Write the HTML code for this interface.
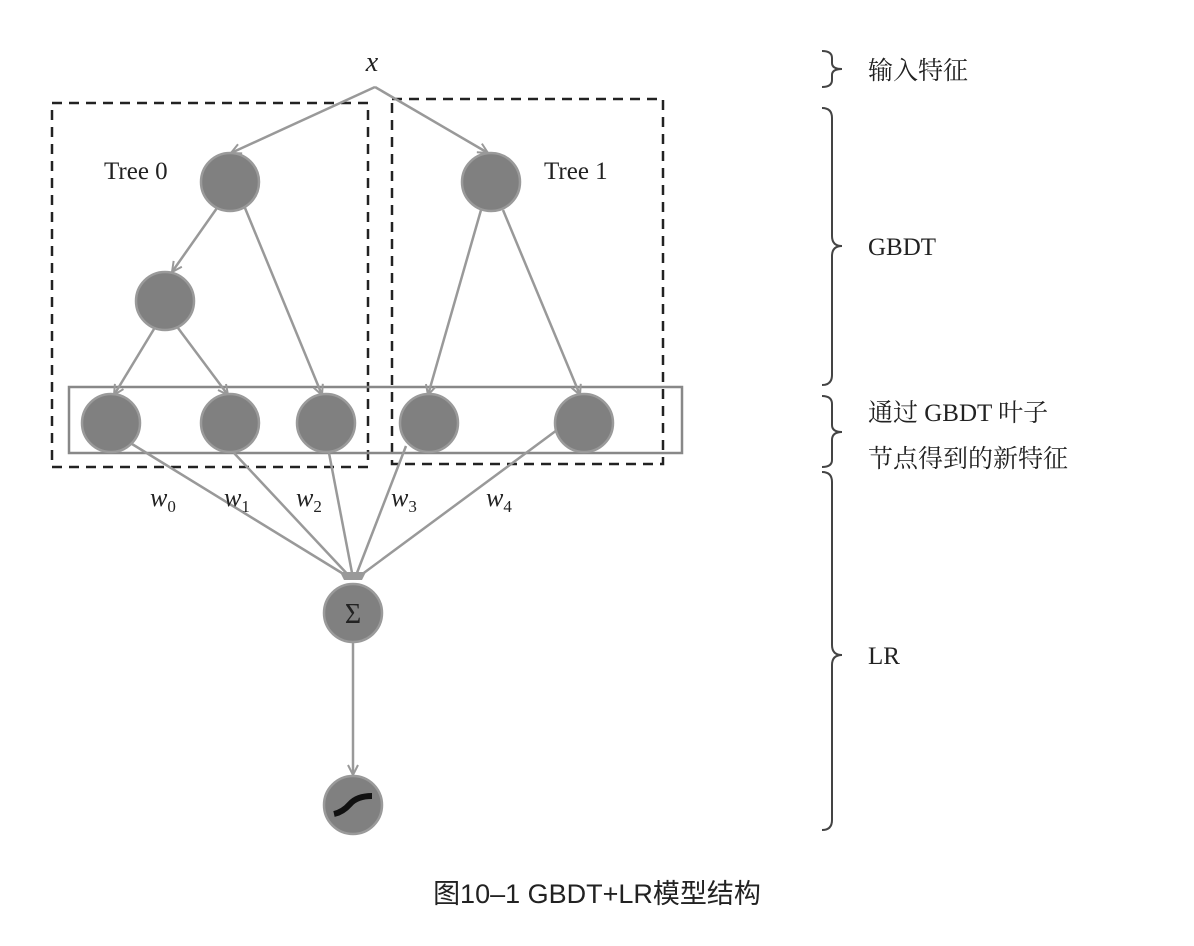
<!DOCTYPE html>
<html><head><meta charset="utf-8"><style>
body{margin:0;background:#fff}
svg{display:block}
.s{font-family:"Liberation Serif","Noto Serif CJK SC",serif;fill:#222}
.c{font-family:"Liberation Sans","Noto Sans CJK SC",sans-serif;fill:#222}
</style></head><body>
<svg width="1194" height="946" viewBox="0 0 1194 946" xmlns="http://www.w3.org/2000/svg">
<defs>
<marker id="a" viewBox="0 0 12 12" refX="11" refY="6" markerWidth="12" markerHeight="12" markerUnits="userSpaceOnUse" orient="auto">
<path d="M1,1 L11,6 L1,11" fill="none" stroke="#999" stroke-width="2"/>
</marker>
</defs>
<rect x="52" y="103" width="316" height="364" fill="none" stroke="#222" stroke-width="2.5" stroke-dasharray="10,7"/>
<rect x="392" y="99" width="271" height="365" fill="none" stroke="#222" stroke-width="2.5" stroke-dasharray="10,7"/>
<rect x="69" y="387" width="613" height="66" fill="none" stroke="#888" stroke-width="2.5"/>
<g stroke="#999" stroke-width="2.5" fill="none" marker-end="url(#a)">
<line x1="375" y1="87" x2="231" y2="153"/>
<line x1="375" y1="87" x2="488" y2="153"/>
<line x1="217" y1="208" x2="172" y2="272"/>
<line x1="245" y1="208" x2="322" y2="395"/>
<line x1="154" y1="329" x2="114" y2="395"/>
<line x1="178" y1="328" x2="228" y2="395"/>
<line x1="481" y1="210" x2="428" y2="395"/>
<line x1="503" y1="210" x2="580" y2="395"/>
<line x1="353" y1="641" x2="353" y2="775"/>
</g>
<g stroke="#999" stroke-width="2.5" fill="none">
<line x1="132" y1="444" x2="350" y2="578"/>
<line x1="234" y1="453" x2="351" y2="578"/>
<line x1="329" y1="453" x2="353" y2="578"/>
<line x1="406" y1="446" x2="355" y2="578"/>
<line x1="557" y1="430" x2="357" y2="578"/>
</g>
<path d="M340,572 L366,572 L362,580 L344,580Z" fill="#999"/>
<g fill="#808080" stroke="#9a9a9a" stroke-width="2.5">
<circle cx="230" cy="182" r="29"/>
<circle cx="491" cy="182" r="29"/>
<circle cx="165" cy="301" r="29"/>
<circle cx="111" cy="423" r="29"/>
<circle cx="230" cy="423" r="29"/>
<circle cx="326" cy="423" r="29"/>
<circle cx="429" cy="423" r="29"/>
<circle cx="584" cy="423" r="29"/>
<circle cx="353" cy="613" r="29"/>
<circle cx="353" cy="805" r="29"/>
</g>
<path d="M334,814 Q343,812 350,804 Q357,796 372,796" stroke="#111" stroke-width="6" fill="none"/>
<text x="353" y="623" text-anchor="middle" class="s" font-size="28" fill="#333">Σ</text>
<text x="372" y="71" text-anchor="middle" class="s" font-size="28" font-style="italic">x</text>
<text x="104" y="179" class="s" font-size="25">Tree 0</text>
<text x="544" y="179" class="s" font-size="25">Tree 1</text>
<g class="s" font-size="26" font-style="italic">
<text x="150" y="506">w<tspan font-size="17" font-style="normal" dy="6">0</tspan></text>
<text x="224" y="506">w<tspan font-size="17" font-style="normal" dy="6">1</tspan></text>
<text x="296" y="506">w<tspan font-size="17" font-style="normal" dy="6">2</tspan></text>
<text x="391" y="506">w<tspan font-size="17" font-style="normal" dy="6">3</tspan></text>
<text x="486" y="506">w<tspan font-size="17" font-style="normal" dy="6">4</tspan></text>
</g>
<g stroke="#444" stroke-width="2" fill="none">
<path d="M822,51 Q832,51 832,58 L832,63 Q832,69 842,69 Q832,69 832,75 L832,80 Q832,87 822,87"/>
<path d="M822,108 Q832,108 832,118 L832,236 Q832,246 842,246 Q832,246 832,256 L832,375 Q832,385 822,385"/>
<path d="M822,396 Q832,396 832,404 L832,425 Q832,432 842,432 Q832,432 832,440 L832,460 Q832,467 822,467"/>
<path d="M822,472 Q832,472 832,482 L832,645 Q832,655 842,655 Q832,655 832,665 L832,820 Q832,830 822,830"/>
</g>
<g class="s" font-size="25">
<text x="868" y="79">输入特征</text>
<text x="868" y="255">GBDT</text>
<text x="868" y="421">通过 GBDT 叶子</text>
<text x="868" y="467">节点得到的新特征</text>
<text x="868" y="664">LR</text>
</g>
<text x="597" y="903" text-anchor="middle" class="c" font-size="27">图10–1 GBDT+LR模型结构</text>
</svg>
</body></html>
